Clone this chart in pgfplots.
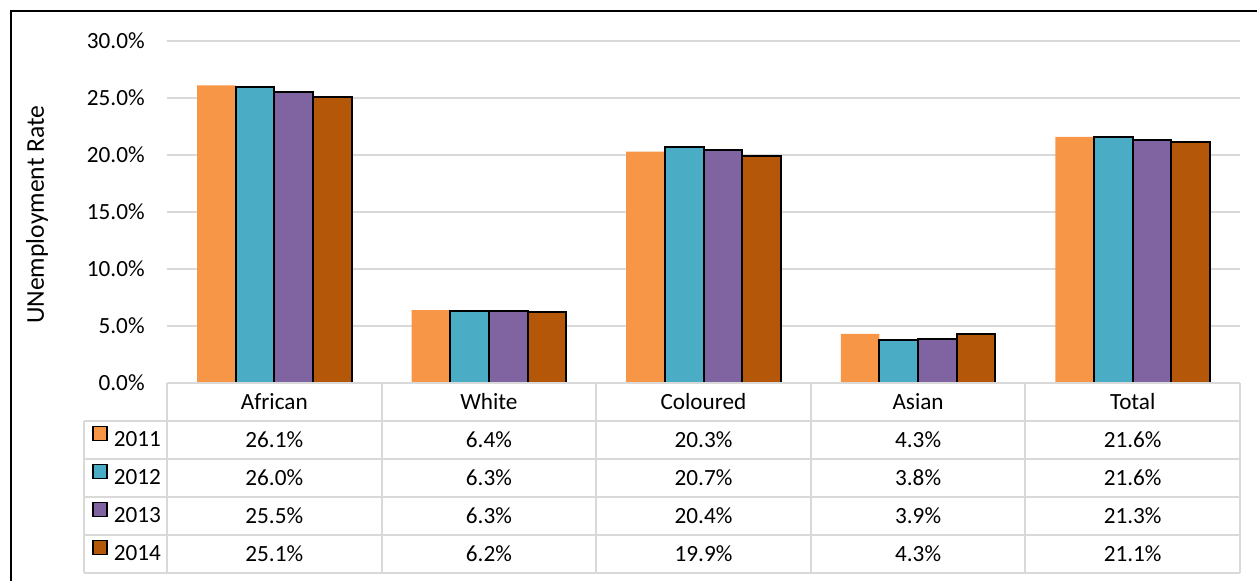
\documentclass[border=0pt]{standalone}
\usepackage{fontspec}
\setmainfont{Carlito}
\usepackage{pgfplots}
\pgfplotsset{compat=1.18}
\definecolor{cA}{HTML}{F79646}
\definecolor{cB}{HTML}{4BACC6}
\definecolor{cC}{HTML}{8064A2}
\definecolor{cD}{HTML}{B55708}
\definecolor{gridgray}{HTML}{D9D9D9}
\begin{document}
\fontsize{11.6}{14}\selectfont
\begin{tikzpicture}
\useasboundingbox (-83.5pt,-99pt) rectangle (545pt,191.5pt);
\draw[line width=1.2pt] (-78pt,-110pt) -- (-78pt,186pt) -- (560pt,186pt);
\begin{axis}[
  at={(0,0)}, anchor=south west,
  scale only axis, width=536.5pt, height=171pt,
  ybar=0pt, bar width=0.18,
  xmin=-0.5, xmax=4.5, ymin=0, ymax=30,
  xtick=\empty, ytick={0,5,...,30},
  yticklabel={\pgfmathprintnumber[fixed,fixed zerofill,precision=1]{\tick}\%},
  /pgf/number format/assume math mode=true,
  yticklabel style={anchor=east, inner sep=0pt, xshift=-11pt},
  ymajorgrids, grid style={line width=1pt, color=gridgray},
  axis line style={draw=none}, major tick length=0pt,
  every axis y label/.style={at={(axis description cs:-0.1212,0.492)}, rotate=90, anchor=center, font=\fontsize{12.8}{15}\selectfont},
  ylabel={UNemployment Rate},
  clip=false,
  legend style={at={(axis cs:-0.887,-3.333)}, anchor=north west, draw=none, fill=none,
    inner xsep=4pt, inner ysep=0pt, row sep=0pt, column sep=0pt,
    /tikz/every odd column/.append style={column sep=3pt},
    nodes={inner sep=0pt, minimum height=19pt}},
  legend image code/.code={\draw[#1, line width=0.8pt] (0pt,0pt) rectangle (7pt,7pt);},
  legend cell align=left,
]
\addplot[fill=cA, draw=none] coordinates {(0,26.1) (1,6.4) (2,20.3) (3,4.3) (4,21.6)};
\addplot[fill=cB, draw=black, line width=1pt] coordinates {(0,26.0) (1,6.3) (2,20.7) (3,3.8) (4,21.6)};
\addplot[fill=cC, draw=black, line width=1pt] coordinates {(0,25.5) (1,6.3) (2,20.4) (3,3.9) (4,21.3)};
\addplot[fill=cD, draw=black, line width=1pt] coordinates {(0,25.1) (1,6.2) (2,19.9) (3,4.3) (4,21.1)};
\legend{2011,2012,2013,2014}
% table lines
\draw[gridgray, line width=1pt] (axis cs:-0.5,0) -- (axis cs:4.5,0);
\draw[gridgray, line width=1pt] (axis cs:-0.887,-3.333) -- (axis cs:4.5,-3.333);
\draw[gridgray, line width=1pt] (axis cs:-0.887,-6.667) -- (axis cs:4.5,-6.667);
\draw[gridgray, line width=1pt] (axis cs:-0.887,-10) -- (axis cs:4.5,-10);
\draw[gridgray, line width=1pt] (axis cs:-0.887,-13.333) -- (axis cs:4.5,-13.333);
\draw[gridgray, line width=1pt] (axis cs:-0.887,-16.667) -- (axis cs:4.5,-16.667);
\draw[gridgray, line width=1pt] (axis cs:-0.887,-3.333) -- (axis cs:-0.887,-16.667);
\draw[gridgray, line width=1pt] (axis cs:-0.5,0) -- (axis cs:-0.5,-16.667);
\draw[gridgray, line width=1pt] (axis cs:0.5,0) -- (axis cs:0.5,-16.667);
\draw[gridgray, line width=1pt] (axis cs:1.5,0) -- (axis cs:1.5,-16.667);
\draw[gridgray, line width=1pt] (axis cs:2.5,0) -- (axis cs:2.5,-16.667);
\draw[gridgray, line width=1pt] (axis cs:3.5,0) -- (axis cs:3.5,-16.667);
\draw[gridgray, line width=1pt] (axis cs:4.5,0) -- (axis cs:4.5,-16.667);
% header
\node at (axis cs:0,-1.667) {African};
\node at (axis cs:1,-1.667) {White};
\node at (axis cs:2,-1.667) {Coloured};
\node at (axis cs:3,-1.667) {Asian};
\node at (axis cs:4,-1.667) {Total};
% values
\node at (axis cs:0,-5) {26.1\%};
\node at (axis cs:1,-5) {6.4\%};
\node at (axis cs:2,-5) {20.3\%};
\node at (axis cs:3,-5) {4.3\%};
\node at (axis cs:4,-5) {21.6\%};
\node at (axis cs:0,-8.333) {26.0\%};
\node at (axis cs:1,-8.333) {6.3\%};
\node at (axis cs:2,-8.333) {20.7\%};
\node at (axis cs:3,-8.333) {3.8\%};
\node at (axis cs:4,-8.333) {21.6\%};
\node at (axis cs:0,-11.667) {25.5\%};
\node at (axis cs:1,-11.667) {6.3\%};
\node at (axis cs:2,-11.667) {20.4\%};
\node at (axis cs:3,-11.667) {3.9\%};
\node at (axis cs:4,-11.667) {21.3\%};
\node at (axis cs:0,-15) {25.1\%};
\node at (axis cs:1,-15) {6.2\%};
\node at (axis cs:2,-15) {19.9\%};
\node at (axis cs:3,-15) {4.3\%};
\node at (axis cs:4,-15) {21.1\%};
\end{axis}
\end{tikzpicture}
\end{document}
